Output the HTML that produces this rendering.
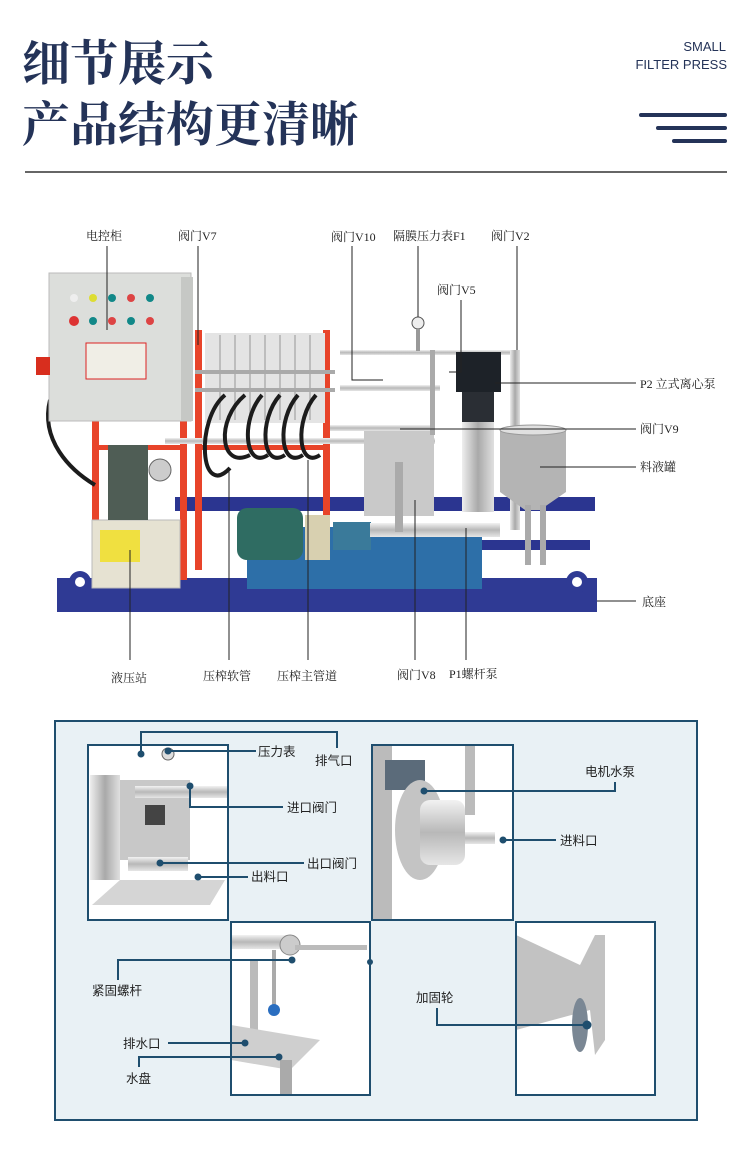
<!DOCTYPE html>
<html><head><meta charset="utf-8"><style>
html,body{margin:0;padding:0;background:#fff;}
svg{display:block;}
.t{font-family:"Liberation Serif","Noto Serif CJK SC",serif;font-size:12px;fill:#222;}
.s{font-family:"Liberation Sans","Noto Sans CJK SC",sans-serif;font-size:12.5px;fill:#222;}
.ln{stroke:#222;stroke-width:1;fill:none;}
.bl{stroke:#1f4e6e;stroke-width:2;fill:none;}
</style></head><body>
<svg width="750" height="1163" viewBox="0 0 750 1163" xmlns="http://www.w3.org/2000/svg">
<defs>
<linearGradient id="met" x1="0" y1="0" x2="0" y2="1"><stop offset="0" stop-color="#f2f2f2"/><stop offset=".5" stop-color="#b8b8b8"/><stop offset="1" stop-color="#e6e6e6"/></linearGradient>
<linearGradient id="meth" x1="0" y1="0" x2="1" y2="0"><stop offset="0" stop-color="#eee"/><stop offset=".5" stop-color="#a9a9a9"/><stop offset="1" stop-color="#e0e0e0"/></linearGradient>
</defs>
<!-- header -->
<text x="22" y="80" style="font-family:'Noto Serif CJK SC',serif;font-weight:bold;font-size:48px;fill:#243358">细节展示</text>
<text x="22" y="141" style="font-family:'Noto Serif CJK SC',serif;font-weight:bold;font-size:48px;fill:#243358">产品结构更清晰</text>
<text x="726" y="51" text-anchor="end" style="font-family:'Liberation Sans',sans-serif;font-size:13px;fill:#243358">SMALL</text>
<text x="727" y="69" text-anchor="end" style="font-family:'Liberation Sans',sans-serif;font-size:13px;fill:#243358">FILTER PRESS</text>
<rect x="639" y="113" width="88" height="4" rx="2" fill="#243358"/>
<rect x="656" y="126" width="71" height="4" rx="2" fill="#243358"/>
<rect x="672" y="139" width="55" height="4" rx="2" fill="#243358"/>
<rect x="25" y="171" width="702" height="2" fill="#666"/>

<!-- machine -->
<g>
<rect x="175" y="497" width="420" height="14" fill="#2b3590"/>
<rect x="480" y="540" width="110" height="10" fill="#2b3590"/>
<rect x="57" y="578" width="540" height="34" fill="#2f3a94"/>
<circle cx="80" cy="582" r="11" fill="#2f3a94"/><circle cx="80" cy="582" r="5" fill="#fff"/>
<circle cx="577" cy="582" r="11" fill="#2f3a94"/><circle cx="577" cy="582" r="5" fill="#fff"/>
<rect x="92" y="420" width="7" height="160" fill="#e8442a"/>
<rect x="180" y="420" width="7" height="160" fill="#e8442a"/>
<rect x="92" y="445" width="95" height="5" fill="#e8442a"/>
<rect x="195" y="330" width="7" height="240" fill="#e8442a"/>
<rect x="323" y="330" width="7" height="240" fill="#e8442a"/>
<rect x="195" y="445" width="135" height="5" fill="#e8442a"/>
<rect x="205" y="333" width="120" height="90" fill="#e4e4e4"/>
<g stroke="#bdbdbd" stroke-width="2"><line x1="220" y1="335" x2="220" y2="420"/><line x1="235" y1="335" x2="235" y2="420"/><line x1="250" y1="335" x2="250" y2="420"/><line x1="265" y1="335" x2="265" y2="420"/><line x1="280" y1="335" x2="280" y2="420"/><line x1="295" y1="335" x2="295" y2="420"/><line x1="310" y1="335" x2="310" y2="420"/></g>
<rect x="195" y="370" width="140" height="4" fill="#aaa"/>
<rect x="195" y="388" width="140" height="4" fill="#aaa"/>
<rect x="165" y="438" width="270" height="6" fill="url(#met)"/>
<g stroke="#1c1c1c" stroke-width="4" fill="none">
<path d="M225 395 C195 420 200 500 230 468"/>
<path d="M245 395 C215 420 220 470 250 455"/>
<path d="M262 395 C240 420 245 470 268 455"/>
<path d="M280 395 C258 420 262 470 285 455"/>
<path d="M298 395 C276 420 280 470 303 455"/>
<path d="M316 395 C294 420 298 470 320 455"/>
<path d="M50 400 C40 440 70 470 95 485"/>
</g>
<rect x="49" y="273" width="142" height="148" fill="#dcdedb" stroke="#bbb"/>
<rect x="181" y="277" width="12" height="144" fill="#c6c8c5"/>
<g><circle cx="74" cy="298" r="4" fill="#eee"/><circle cx="93" cy="298" r="4" fill="#dd3"/><circle cx="112" cy="298" r="4" fill="#188"/><circle cx="131" cy="298" r="4" fill="#d44"/><circle cx="150" cy="298" r="4" fill="#188"/>
<circle cx="74" cy="321" r="5" fill="#d33"/><circle cx="93" cy="321" r="4" fill="#188"/><circle cx="112" cy="321" r="4" fill="#d44"/><circle cx="131" cy="321" r="4" fill="#188"/><circle cx="150" cy="321" r="4" fill="#d44"/></g>
<rect x="86" y="343" width="60" height="36" fill="#f0eee6" stroke="#d22"/>
<rect x="36" y="357" width="14" height="18" fill="#d82e1e"/>
<rect x="92" y="520" width="88" height="68" fill="#e6e2d2" stroke="#bbb"/>
<rect x="100" y="530" width="40" height="32" fill="#f0e040"/>
<rect x="108" y="445" width="40" height="75" fill="#4f5d55"/>
<circle cx="160" cy="470" r="11" fill="#ccc" stroke="#666"/>
<rect x="247" y="527" width="235" height="62" fill="#2d6fa8"/>
<rect x="237" y="508" width="66" height="52" rx="10" fill="#2f6c62"/>
<rect x="305" y="515" width="25" height="45" fill="#d8d0b0"/>
<rect x="333" y="522" width="38" height="28" fill="#3a7a9a"/>
<rect x="370" y="523" width="130" height="14" fill="url(#met)"/>
<rect x="364" y="428" width="70" height="88" fill="#c9c9c9"/>
<rect x="395" y="462" width="8" height="70" fill="#aaa"/>
<rect x="340" y="350" width="170" height="5" fill="url(#met)"/>
<rect x="340" y="385" width="100" height="6" fill="url(#met)"/>
<rect x="330" y="425" width="105" height="6" fill="url(#met)"/>
<rect x="430" y="350" width="5" height="85" fill="#aaa"/>
<rect x="510" y="350" width="10" height="180" fill="url(#meth)"/>
<circle cx="418" cy="323" r="6" fill="#eee" stroke="#555"/>
<rect x="416" y="329" width="4" height="22" fill="#999"/>
<rect x="456" y="352" width="45" height="40" fill="#1d2228"/>
<rect x="462" y="392" width="32" height="120" fill="url(#meth)"/>
<rect x="462" y="392" width="32" height="30" fill="#2a2e34"/>
<path d="M500 430 L566 430 L566 492 L540 510 L525 510 L500 492 Z" fill="#b4b4b4"/>
<ellipse cx="533" cy="430" rx="33" ry="5" fill="#e0e0e0" stroke="#999"/>
<rect x="525" y="505" width="6" height="60" fill="#aaa"/>
<rect x="540" y="505" width="6" height="60" fill="#aaa"/>
</g>
<g class="ln">
<line x1="107" y1="246" x2="107" y2="330"/>
<line x1="198" y1="246" x2="198" y2="345"/>
<polyline points="352,246 352,380 383,380"/>
<line x1="418" y1="246" x2="418" y2="317"/>
<line x1="517" y1="246" x2="517" y2="350"/>
<polyline points="461,300 461,372 449,372"/>
<line x1="495" y1="383" x2="636" y2="383"/>
<line x1="400" y1="429" x2="636" y2="429"/>
<line x1="540" y1="467" x2="636" y2="467"/>
<line x1="597" y1="601" x2="636" y2="601"/>
<line x1="130" y1="550" x2="130" y2="660"/>
<line x1="229" y1="470" x2="229" y2="660"/>
<line x1="308" y1="460" x2="308" y2="660"/>
<line x1="415" y1="500" x2="415" y2="660"/>
<line x1="466" y1="528" x2="466" y2="660"/>
</g>
<text class="t" x="86" y="240">电控柜</text>
<text class="t" x="178" y="240">阀门V7</text>
<text class="t" x="331" y="241">阀门V10</text>
<text class="t" x="393" y="240">隔膜压力表F1</text>
<text class="t" x="491" y="240">阀门V2</text>
<text class="t" x="437" y="294">阀门V5</text>
<text class="t" x="640" y="388">P2 立式离心泵</text>
<text class="t" x="640" y="433">阀门V9</text>
<text class="t" x="640" y="471">料液罐</text>
<text class="t" x="642" y="606">底座</text>
<text class="t" x="111" y="682">液压站</text>
<text class="t" x="203" y="680">压榨软管</text>
<text class="t" x="277" y="680">压榨主管道</text>
<text class="t" x="397" y="679">阀门V8</text>
<text class="t" x="449" y="678">P1螺杆泵</text>

<rect x="55" y="721" width="642" height="399" fill="#e9f1f5" stroke="#1f4e6e" stroke-width="2"/>
<rect x="88" y="745" width="140" height="175" fill="#fff"/>
<rect x="90" y="775" width="30" height="105" fill="url(#meth)"/>
<rect x="120" y="780" width="70" height="80" fill="#c8c8c8"/>
<rect x="145" y="805" width="20" height="20" fill="#444"/>
<rect x="135" y="786" width="93" height="12" fill="url(#met)"/>
<rect x="128" y="857" width="60" height="14" fill="url(#met)"/>
<circle cx="168" cy="754" r="6" fill="#ddd" stroke="#666"/>
<path d="M120 880 L225 880 L210 905 L92 905 Z" fill="#d5d5d5"/>
<rect x="88" y="745" width="140" height="175" class="bl"/>
<rect x="372" y="745" width="141" height="175" fill="#fff"/>
<rect x="372" y="745" width="20" height="175" fill="#bbb"/>
<rect x="385" y="760" width="40" height="30" fill="#5b6b7a"/>
<ellipse cx="420" cy="830" rx="25" ry="50" fill="#c4c4c4"/>
<rect x="420" y="800" width="45" height="65" rx="10" fill="url(#met)"/>
<rect x="465" y="832" width="30" height="12" fill="url(#met)"/>
<rect x="465" y="745" width="10" height="70" fill="#bbb"/>
<rect x="372" y="745" width="141" height="175" class="bl"/>
<rect x="231" y="922" width="139" height="173" fill="#fff"/>
<rect x="231" y="935" width="60" height="14" fill="url(#met)"/>
<circle cx="290" cy="945" r="10" fill="#ccc" stroke="#888"/>
<rect x="295" y="945" width="72" height="5" fill="#bbb"/>
<rect x="272" y="950" width="4" height="55" fill="#aaa"/>
<circle cx="274" cy="1010" r="6" fill="#2a6ec0"/>
<rect x="250" y="960" width="8" height="80" fill="#bbb"/>
<path d="M231 1025 L320 1040 L290 1070 L231 1060 Z" fill="#cfcfcf"/>
<rect x="280" y="1060" width="12" height="35" fill="#aaa"/>
<rect x="231" y="922" width="139" height="173" class="bl"/>
<rect x="516" y="922" width="139" height="173" fill="#fff"/>
<path d="M516 935 L580 965 L595 935 L605 935 L605 1040 L595 1055 L590 1010 L516 1030 Z" fill="#c2c2c2"/>
<ellipse cx="580" cy="1025" rx="8" ry="27" fill="#7a8794"/>
<rect x="516" y="922" width="139" height="173" class="bl"/>
<g class="bl">
<line x1="168" y1="751" x2="256" y2="751"/>
<polyline points="141,754 141,732 337,732 337,748"/>
<polyline points="190,786 190,807 283,807"/>
<line x1="160" y1="863" x2="304" y2="863"/>
<line x1="198" y1="877" x2="248" y2="877"/>
<polyline points="424,791 615,791 615,782"/>
<line x1="503" y1="840" x2="556" y2="840"/>
<polyline points="118,980 118,960 292,960"/>
<line x1="168" y1="1043" x2="245" y2="1043"/>
<polyline points="139,1067 139,1057 279,1057"/>
<polyline points="437,1008 437,1025 587,1025"/>
</g>
<g fill="#1f4e6e">
<circle cx="141" cy="754" r="3.5"/><circle cx="168" cy="751" r="3.5"/><circle cx="190" cy="786" r="3.5"/>
<circle cx="160" cy="863" r="3.5"/><circle cx="198" cy="877" r="3.5"/><circle cx="424" cy="791" r="3.5"/>
<circle cx="503" cy="840" r="3.5"/><circle cx="292" cy="960" r="3.5"/><circle cx="245" cy="1043" r="3.5"/>
<circle cx="279" cy="1057" r="3.5"/><circle cx="587" cy="1025" r="4.5"/><circle cx="370" cy="962" r="3"/>
</g>
<text class="s" x="258" y="756">压力表</text>
<text class="s" x="315" y="765">排气口</text>
<text class="s" x="287" y="812">进口阀门</text>
<text class="s" x="307" y="868">出口阀门</text>
<text class="s" x="251" y="881">出料口</text>
<text class="s" x="585" y="776">电机水泵</text>
<text class="s" x="560" y="845">进料口</text>
<text class="s" x="92" y="995">紧固螺杆</text>
<text class="s" x="123" y="1048">排水口</text>
<text class="s" x="126" y="1083">水盘</text>
<text class="s" x="416" y="1002">加固轮</text>
</svg>
</body></html>
